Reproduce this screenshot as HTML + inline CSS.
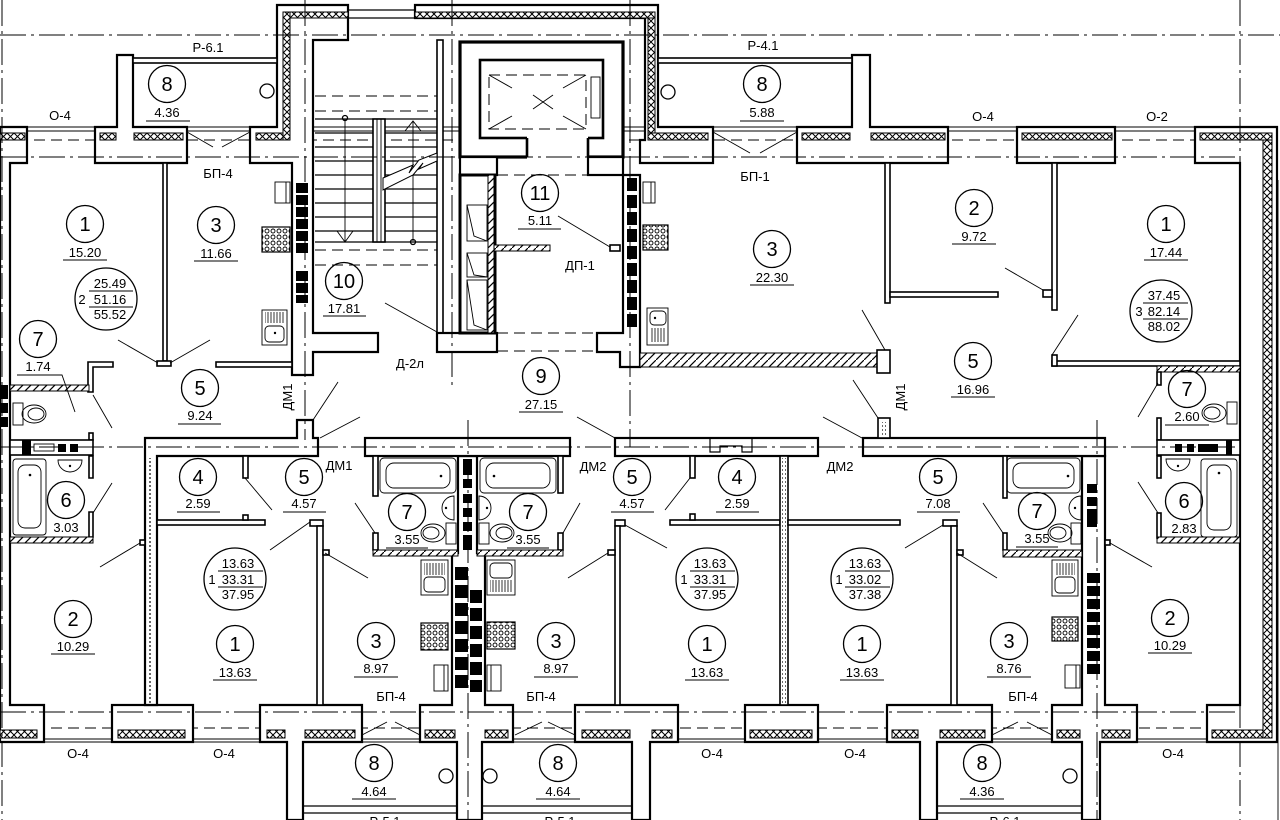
<!DOCTYPE html>
<html><head><meta charset="utf-8"><style>
html,body{margin:0;padding:0;background:#fff}
svg{display:block}
text{font-family:"Liberation Sans Narrow","Liberation Sans",sans-serif;fill:#000}
.w{fill:#fff;stroke:#000;stroke-width:2.2}
.p{fill:#fff;stroke:#000;stroke-width:1.6}
.l{stroke:#000;stroke-width:1.2;fill:none}
.t{stroke:#000;stroke-width:0.9;fill:none}
.dd{stroke:#000;stroke-width:1;stroke-dasharray:26 5 3 5;fill:none}
.da{stroke:#000;stroke-width:1;stroke-dasharray:11 6;fill:none}
.x{fill:url(#xp);stroke:#000;stroke-width:1}
.h{fill:url(#hp);stroke:#000;stroke-width:1}
.b{fill:#000}
.c{fill:none;stroke:#000;stroke-width:1.3}
.n{font-size:20px;text-anchor:middle}
.a{font-size:13px;text-anchor:middle}
</style></head><body>
<svg width="1280" height="820" viewBox="0 0 1280 820" xmlns="http://www.w3.org/2000/svg">
<defs>
<pattern id="xp" width="7" height="7" patternUnits="userSpaceOnUse"><rect width="7" height="7" fill="#fff"/><path d="M0,0L7,7M7,0L0,7" stroke="#000" stroke-width="1"/></pattern>
<pattern id="hp" width="8" height="8" patternUnits="userSpaceOnUse"><rect width="8" height="8" fill="#fff"/><path d="M0,8L8,0" stroke="#000" stroke-width="1.2"/></pattern>
<pattern id="st" width="6" height="6" patternUnits="userSpaceOnUse"><rect width="6" height="6" fill="#fff"/><circle cx="3" cy="3" r="2" fill="none" stroke="#000" stroke-width="0.9"/></pattern>
<pattern id="dr" width="3" height="10" patternUnits="userSpaceOnUse"><path d="M1,0V10" stroke="#000" stroke-width="0.8"/></pattern>
<pattern id="dt" width="4" height="4" patternUnits="userSpaceOnUse"><circle cx="2" cy="2" r="0.9" fill="#000"/></pattern>
</defs>
<rect width="1280" height="820" fill="#fff"/>

<path class="t" d="M0,127H1195M0,131H1195M0,739H1275M0,742H1275"/>
<path class="da" d="M0,140H1262M0,728H1262"/>

<path class="w" d="M0,127H27V163H10V705H44V742H0Z"/>
<path class="w" d="M95,127H117V55H133V127H187V163H95Z"/>
<path class="w" d="M250,127H277V5H348V40H313V333H378V352H313V375H292V163H250Z"/>
<path class="w" d="M415,5H658V127H713V163H640V140H645V18H415Z"/>
<path class="w" d="M797,127H852V55H870V127H948V163H797Z"/>
<rect class="w" x="1017" y="127" width="98" height="36"/>
<path class="w" d="M1195,127H1277V742H1207V705H1240V163H1195Z"/>
<path class="l" d="M348,10H415M348,18H415"/>
<rect class="p" x="133" y="58" width="144" height="5"/>
<rect class="p" x="658" y="58" width="194" height="5"/>
<circle class="c" cx="267" cy="91" r="7" stroke-width="2"/>
<circle class="c" cx="668" cy="92" r="7" stroke-width="2"/>
<rect class="x" x="0" y="133" width="25" height="7"/>
<rect class="x" x="100" y="133" width="16" height="7"/>
<rect class="x" x="134" y="133" width="49" height="7"/>
<rect class="x" x="256" y="133" width="27" height="7"/>
<rect class="x" x="283" y="12" width="7" height="128"/>
<rect class="x" x="290" y="12" width="58" height="6"/>
<rect class="x" x="415" y="12" width="240" height="6"/>
<rect class="x" x="648" y="18" width="7" height="115"/>
<rect class="x" x="648" y="133" width="60" height="7"/>
<rect class="x" x="802" y="133" width="48" height="7"/>
<rect class="x" x="871" y="133" width="74" height="7"/>
<rect class="x" x="1022" y="133" width="90" height="7"/>
<rect class="x" x="1200" y="133" width="72" height="7"/>
<rect class="x" x="1263" y="140" width="9" height="598"/>

<rect class="w" x="112" y="705" width="81" height="37"/>
<path class="w" d="M260,705H362V742H303V820H287V742H260Z"/>
<path class="w" d="M420,705H452V553H458V456H477V553H485V705H513V742H482V820H457V742H420Z"/>
<path class="w" d="M575,705H678V742H650V820H632V742H575Z"/>
<rect class="w" x="745" y="705" width="73" height="37"/>
<path class="w" d="M887,705H992V742H937V820H920V742H887Z"/>
<path class="w" d="M1052,705H1082V456H1105V705H1137V742H1100V820H1082V742H1052Z"/>
<rect class="x" x="0" y="730" width="37" height="8"/>
<rect class="x" x="118" y="730" width="67" height="8"/>
<rect class="x" x="267" y="730" width="18" height="8"/>
<rect class="x" x="305" y="730" width="50" height="8"/>
<rect class="x" x="425" y="730" width="30" height="8"/>
<rect class="x" x="485" y="730" width="23" height="8"/>
<rect class="x" x="582" y="730" width="48" height="8"/>
<rect class="x" x="652" y="730" width="20" height="8"/>
<rect class="x" x="750" y="730" width="62" height="8"/>
<rect class="x" x="892" y="730" width="26" height="8"/>
<rect class="x" x="940" y="730" width="45" height="8"/>
<rect class="x" x="1057" y="730" width="23" height="8"/>
<rect class="x" x="1102" y="730" width="28" height="8"/>
<rect class="x" x="1212" y="730" width="51" height="8"/>
<path class="l" d="M303,806H457M303,813H457M482,806H632M482,813H632M937,806H1082M937,813H1082" stroke-width="1.6"/>
<circle class="c" cx="446" cy="776" r="7" stroke-width="2"/>
<circle class="c" cx="490" cy="776" r="7" stroke-width="2"/>
<circle class="c" cx="1070" cy="776" r="7" stroke-width="2"/>

<rect class="p" x="437" y="40" width="6" height="293"/>
<path class="da" d="M315,96H437M315,111H437M315,250H437M315,265H437"/>
<path class="l" d="M315,119H437M315,133H373M385,133H437M315,147H373M385,147H437M315,161H373M385,161H437M315,175H373M385,175H437M315,189H373M385,189H437M315,203H373M385,203H437M315,217H373M385,217H437M315,231H373M385,231H437M315,242H437"/>
<rect class="p" x="373" y="119" width="12" height="123"/>
<path class="t" d="M377,119V242M381,119V242"/>
<path class="t" d="M345,119V241M337,231L345,242L353,231M413,241V121M405,131L413,121L421,131"/>
<circle cx="345" cy="118" r="2.5" class="c"/><circle cx="413" cy="242" r="2.5" class="c"/>
<path d="M383,178L413,165L409,173L419,160L437,153V161L419,169L423,163L413,175L383,190Z" fill="#fff" stroke="#000" stroke-width="1"/>
<rect class="w" x="437" y="333" width="60" height="19"/>
<rect x="460" y="42" width="163" height="115" fill="#fff" stroke="#000" stroke-width="3.2"/>
<rect x="480" y="60" width="123" height="78" fill="#fff" stroke="#000" stroke-width="2.6"/>
<rect x="527" y="136" width="61" height="23" fill="#fff"/>
<path d="M527,138V157M588,138V157" stroke="#000" stroke-width="2.6"/>
<rect class="da" x="489" y="75" width="97" height="54"/>
<path class="t" d="M489,75L512,88M586,75L563,88M489,129L512,116M586,129L563,116M533,95L553,109M553,95L533,109"/>
<rect class="t" x="591" y="77" width="9" height="41"/>
<rect class="w" x="460" y="157" width="37" height="18"/>
<rect class="w" x="588" y="157" width="35" height="18"/>
<rect x="460" y="175" width="35" height="158" fill="#fff" stroke="#000" stroke-width="3"/>
<rect class="h" x="488" y="175" width="6" height="158"/>
<rect class="t" x="467" y="205" width="20" height="36"/><path class="t" d="M467,205L474,236L487,241"/>
<rect class="t" x="467" y="253" width="20" height="24"/><path class="t" d="M467,253L474,275L487,277"/>
<rect class="t" x="467" y="280" width="20" height="50"/><path class="t" d="M467,280L474,325L487,330"/>
<rect class="h" x="494" y="245" width="56" height="6"/>
<path class="da" d="M497,175H588M497,333H597M497,351H597"/>
<path class="w" d="M623,175H640V367H620V352H597V333H623Z"/>
<g class="b">
<rect x="627" y="178" width="10" height="13"/><rect x="627" y="195" width="10" height="13"/><rect x="627" y="212" width="10" height="13"/><rect x="627" y="229" width="10" height="13"/><rect x="627" y="246" width="10" height="13"/><rect x="627" y="263" width="10" height="13"/><rect x="627" y="280" width="10" height="13"/><rect x="627" y="297" width="10" height="13"/><rect x="627" y="314" width="10" height="13"/>
</g>
<rect class="p" x="610" y="245" width="10" height="6"/>

<g class="b">
<rect x="296" y="183" width="12" height="10"/><rect x="296" y="195" width="12" height="10"/><rect x="296" y="207" width="12" height="10"/><rect x="296" y="219" width="12" height="10"/><rect x="296" y="231" width="12" height="10"/><rect x="296" y="243" width="12" height="10"/>
<rect x="296" y="271" width="12" height="10"/><rect x="296" y="283" width="12" height="10"/><rect x="296" y="295" width="12" height="8"/>
</g>

<rect class="p" x="163" y="163" width="4" height="198"/>
<rect class="p" x="157" y="361" width="14" height="5"/>
<rect class="p" x="216" y="362" width="76" height="5"/>
<path class="p" d="M88,362H113V367H93V392H88Z"/>
<rect class="p" x="89" y="433" width="4" height="7"/>
<rect class="h" x="10" y="385" width="79" height="6"/>
<rect class="t" x="13" y="403" width="10" height="22"/><ellipse class="t" cx="34" cy="414" rx="12" ry="9"/><ellipse class="t" cx="36" cy="414" rx="8" ry="6"/>
<rect x="0" y="385" width="8" height="14" class="b"/><rect x="0" y="403" width="8" height="10" class="b"/><rect x="0" y="417" width="8" height="10" class="b"/>
<rect class="t" x="275" y="182" width="15" height="21"/><path class="t" d="M286,182V203"/>
<rect x="262" y="227" width="28" height="25" fill="url(#st)" stroke="#000" stroke-width="1.2"/>
<rect class="t" x="262" y="310" width="25" height="35"/><rect x="265" y="312" width="19" height="11" fill="url(#dr)"/><rect class="t" x="265" y="326" width="19" height="16" rx="4"/><circle cx="275" cy="333" r="1.2" class="b"/>

<rect class="h" x="640" y="353" width="242" height="14"/>
<rect class="p" x="877" y="350" width="13" height="23"/>
<rect class="t" x="643" y="182" width="12" height="21"/><path class="t" d="M651,182V203"/>
<rect x="643" y="225" width="25" height="25" fill="url(#st)" stroke="#000" stroke-width="1.2"/>
<rect class="t" x="647" y="308" width="21" height="37"/><rect class="t" x="650" y="311" width="16" height="14" rx="4"/><circle cx="655" cy="318" r="1.2" class="b"/><rect x="650" y="328" width="16" height="14" fill="url(#dr)"/>
<rect class="p" x="885" y="163" width="5" height="140"/>
<rect class="p" x="890" y="292" width="108" height="5"/>
<rect class="p" x="1052" y="163" width="5" height="147"/>
<rect class="p" x="1043" y="290" width="9" height="7"/>
<rect class="p" x="1052" y="361" width="188" height="5"/>
<rect class="p" x="1052" y="355" width="5" height="11"/>
<rect class="h" x="1157" y="366" width="83" height="6"/>
<rect class="p" x="1157" y="372" width="4" height="13"/>
<rect class="p" x="1157" y="418" width="4" height="22"/>
<rect class="t" x="1227" y="402" width="10" height="22"/><ellipse class="t" cx="1214" cy="413" rx="12" ry="9"/><ellipse class="t" cx="1212" cy="413" rx="8" ry="6"/>

<path class="w" d="M145,438H297V420H313V438H318V456H157V705H145Z"/>
<rect x="149" y="458" width="4" height="246" fill="url(#dt)"/>
<rect class="w" x="365" y="438" width="205" height="18"/>
<rect class="w" x="615" y="438" width="203" height="18"/>
<path class="l" d="M710,438V452H720V446H742V452H752V438" stroke-width="2"/>
<rect class="w" x="863" y="438" width="242" height="18"/>
<rect class="p" x="878" y="418" width="12" height="20"/>
<rect x="882" y="422" width="4" height="14" fill="url(#dt)"/>
<rect class="p" x="10" y="440" width="83" height="15"/>
<rect x="22" y="440" width="9" height="15" class="b"/><rect class="t" x="34" y="444" width="20" height="7"/><rect x="58" y="444" width="8" height="8" class="b"/><rect x="70" y="444" width="8" height="8" class="b"/>
<rect class="p" x="1157" y="440" width="83" height="15"/>
<rect x="1226" y="440" width="6" height="15" class="b"/><rect class="b" x="1198" y="444" width="20" height="8"/><rect x="1187" y="444" width="7" height="8" class="b"/><rect x="1175" y="444" width="7" height="8" class="b"/>

<path class="p" d="M89,456H93V478H89ZM89,512H93V537H89Z"/>
<rect class="h" x="10" y="537" width="83" height="6"/>
<rect class="t" x="13" y="459" width="33" height="76" rx="3"/><rect class="t" x="18" y="465" width="23" height="63" rx="7"/><circle cx="30" cy="475" r="1.3" class="b"/>
<path class="t" d="M58,460H82A12,12 0 0 1 58,460Z"/><circle cx="70" cy="466" r="1.2" class="b"/>
<rect class="p" x="140" y="540" width="5" height="5"/>
<rect class="p" x="243" y="456" width="5" height="22"/>
<rect class="p" x="157" y="520" width="108" height="5"/>
<rect class="p" x="243" y="515" width="5" height="5"/>
<rect class="p" x="310" y="520" width="13" height="6"/>
<rect class="p" x="317" y="526" width="6" height="179"/>
<rect class="p" x="323" y="550" width="6" height="5"/>
<rect class="p" x="373" y="456" width="5" height="40"/>
<rect class="p" x="373" y="533" width="5" height="17"/>
<rect class="h" x="373" y="550" width="85" height="6"/>
<rect class="t" x="380" y="458" width="76" height="35" rx="4"/><rect class="t" x="386" y="463" width="64" height="25" rx="8"/><circle cx="441" cy="476" r="1.3" class="b"/>
<path class="t" d="M454,496V520A12,12 0 0 1 454,496Z"/><circle cx="446" cy="508" r="1.2" class="b"/>
<rect class="t" x="446" y="523" width="10" height="21"/><ellipse class="t" cx="433" cy="533" rx="12" ry="9"/><ellipse class="t" cx="431" cy="533" rx="8" ry="6"/>
<rect class="p" x="558" y="456" width="5" height="37"/>
<rect class="p" x="558" y="533" width="5" height="17"/>
<rect class="h" x="477" y="550" width="86" height="6"/>
<rect class="t" x="480" y="458" width="76" height="35" rx="4"/><rect class="t" x="486" y="463" width="64" height="25" rx="8"/><circle cx="494" cy="476" r="1.3" class="b"/>
<path class="t" d="M479,496V520A12,12 0 0 0 479,496Z"/><circle cx="487" cy="508" r="1.2" class="b"/>
<rect class="t" x="479" y="523" width="10" height="21"/><ellipse class="t" cx="502" cy="533" rx="12" ry="9"/><ellipse class="t" cx="504" cy="533" rx="8" ry="6"/>
<g class="b">
<rect x="463" y="459" width="9" height="16"/><rect x="463" y="479" width="9" height="9"/><rect x="463" y="494" width="9" height="9"/><rect x="463" y="508" width="9" height="9"/><rect x="463" y="522" width="9" height="9"/><rect x="463" y="535" width="9" height="15"/>
<rect x="455" y="567" width="13" height="13"/><rect x="455" y="585" width="13" height="13"/><rect x="455" y="603" width="13" height="13"/><rect x="455" y="621" width="13" height="13"/><rect x="455" y="639" width="13" height="13"/><rect x="455" y="657" width="13" height="13"/><rect x="455" y="675" width="13" height="13"/>
<rect x="470" y="590" width="12" height="13"/><rect x="470" y="608" width="12" height="13"/><rect x="470" y="626" width="12" height="13"/><rect x="470" y="644" width="12" height="13"/><rect x="470" y="662" width="12" height="13"/><rect x="470" y="680" width="12" height="12"/>
</g>
<rect class="t" x="421" y="560" width="27" height="35"/><rect x="424" y="563" width="21" height="12" fill="url(#dr)"/><rect class="t" x="424" y="577" width="21" height="15" rx="4"/>
<rect x="421" y="623" width="27" height="27" fill="url(#st)" stroke="#000" stroke-width="1.2"/>
<rect class="t" x="434" y="665" width="14" height="26"/><path class="t" d="M444,665V691"/>
<rect class="t" x="487" y="560" width="28" height="35"/><rect class="t" x="490" y="563" width="22" height="15" rx="4"/><rect x="490" y="580" width="22" height="12" fill="url(#dr)"/>
<rect x="487" y="622" width="28" height="27" fill="url(#st)" stroke="#000" stroke-width="1.2"/>
<rect class="t" x="487" y="665" width="14" height="26"/><path class="t" d="M491,665V691"/>
<rect class="p" x="615" y="520" width="10" height="6"/>
<rect class="p" x="615" y="526" width="5" height="179"/>
<rect class="p" x="608" y="550" width="7" height="5"/>
<rect class="p" x="690" y="456" width="5" height="22"/>
<rect class="p" x="670" y="520" width="110" height="5"/>
<rect class="p" x="690" y="514" width="5" height="6"/>
<rect class="p" x="780" y="456" width="8" height="249"/>
<rect x="782" y="458" width="4" height="246" fill="url(#dt)"/>
<rect class="p" x="788" y="520" width="112" height="5"/>
<rect class="p" x="943" y="520" width="14" height="6"/>
<rect class="p" x="951" y="526" width="6" height="179"/>
<rect class="p" x="957" y="550" width="6" height="5"/>
<rect class="p" x="1003" y="456" width="4" height="42"/>
<rect class="p" x="1003" y="533" width="4" height="17"/>
<rect class="h" x="1003" y="550" width="79" height="7"/>
<rect class="t" x="1007" y="458" width="73" height="35" rx="4"/><rect class="t" x="1013" y="463" width="61" height="25" rx="8"/><circle cx="1068" cy="476" r="1.3" class="b"/>
<path class="t" d="M1081,496V520A12,12 0 0 1 1081,496Z"/><circle cx="1075" cy="508" r="1.2" class="b"/>
<rect class="t" x="1071" y="523" width="10" height="21"/><ellipse class="t" cx="1060" cy="533" rx="12" ry="9"/><ellipse class="t" cx="1058" cy="533" rx="8" ry="6"/>
<rect class="t" x="1052" y="560" width="26" height="36"/><rect x="1055" y="563" width="20" height="12" fill="url(#dr)"/><rect class="t" x="1055" y="577" width="20" height="16" rx="4"/>
<rect x="1052" y="617" width="26" height="24" fill="url(#st)" stroke="#000" stroke-width="1.2"/>
<rect class="t" x="1065" y="665" width="15" height="23"/><path class="t" d="M1076,665V688"/>
<g class="b">
<rect x="1087" y="484" width="10" height="9"/><rect x="1087" y="497" width="10" height="9"/><rect x="1087" y="509" width="10" height="18"/>
<rect x="1087" y="573" width="13" height="10"/><rect x="1087" y="586" width="13" height="10"/><rect x="1087" y="599" width="13" height="10"/><rect x="1087" y="612" width="13" height="10"/><rect x="1087" y="625" width="13" height="10"/><rect x="1087" y="638" width="13" height="10"/><rect x="1087" y="651" width="13" height="10"/><rect x="1087" y="664" width="13" height="10"/>
</g>
<rect class="p" x="1105" y="540" width="5" height="5"/>
<rect class="p" x="1157" y="456" width="4" height="22"/>
<rect class="p" x="1157" y="513" width="4" height="25"/>
<rect class="h" x="1157" y="537" width="83" height="6"/>
<rect class="t" x="1201" y="459" width="36" height="78" rx="3"/><rect class="t" x="1207" y="465" width="24" height="65" rx="7"/><circle cx="1219" cy="473" r="1.3" class="b"/>
<path class="t" d="M1166,459H1190A12,12 0 0 1 1166,459Z"/><circle cx="1178" cy="466" r="1.2" class="b"/>

<path class="t" stroke-width="1.1" d="M187,132L213,147M250,132L222,147M713,132L750,153M797,132L760,153
M118,340L158,363M210,340L170,363M93,395L112,428M385,303L437,332M558,216L610,247
M320,438L360,417M313,420L338,382M615,438L577,417M862,438L823,417M878,418L853,380M885,350L862,310
M1005,268L1043,290M1052,355L1078,315M1158,383L1138,417
M93,513L112,483M140,543L100,567M245,478L272,510M310,522L270,550M325,553L368,578M375,533L355,503
M563,533L580,503M608,553L568,578M625,525L667,548M690,478L665,510
M943,525L905,548M957,553L997,578M1003,533L983,503M1110,543L1152,567M1158,513L1138,482
M362,735L387,722M420,735L395,722M515,735L542,722M575,735L548,722M992,735L1018,722M1052,735L1027,722"/>

<path class="dd" d="M0,35H1280M0,157H1240M0,447H1240M0,712H1240M2,0V820M305,0V440M452,0V390M630,0V447M1240,0V820M1097,420V820M468,420V820"/>
<path class="t" d="M1278,180V820"/>

<g>
<text class="a" x="208" y="52">Р-6.1</text>
<text class="a" x="763" y="50">Р-4.1</text>
<text class="a" x="60" y="120">О-4</text>
<text class="a" x="983" y="121">О-4</text>
<text class="a" x="1157" y="121">О-2</text>
<text class="a" x="218" y="178">БП-4</text>
<text class="a" x="755" y="181">БП-1</text>
<text class="a" x="580" y="270">ДП-1</text>
<text class="a" x="410" y="368">Д-2л</text>
<text class="a" transform="translate(292,397) rotate(-90)">ДМ1</text>
<text class="a" transform="translate(905,397) rotate(-90)">ДМ1</text>
<text class="a" x="339" y="470">ДМ1</text>
<text class="a" x="593" y="471">ДМ2</text>
<text class="a" x="840" y="471">ДМ2</text>
<text class="a" x="391" y="701">БП-4</text>
<text class="a" x="541" y="701">БП-4</text>
<text class="a" x="1023" y="701">БП-4</text>
<text class="a" x="78" y="758">О-4</text>
<text class="a" x="224" y="758">О-4</text>
<text class="a" x="712" y="758">О-4</text>
<text class="a" x="855" y="758">О-4</text>
<text class="a" x="1173" y="758">О-4</text>
<text class="a" x="385" y="826">Р-5.1</text>
<text class="a" x="560" y="826">Р-5.1</text>
<text class="a" x="1005" y="826">Р-6.1</text>
</g>

<g>
<circle class="c" cx="167" cy="84" r="18.5"/><text class="n" x="167" y="91">8</text><text class="a" x="167" y="117">4.36</text><path class="t" d="M146,121H190"/>
<circle class="c" cx="762" cy="84" r="18.5"/><text class="n" x="762" y="91">8</text><text class="a" x="762" y="117">5.88</text><path class="t" d="M740,121H784"/>
<circle class="c" cx="85" cy="224" r="18.5"/><text class="n" x="85" y="231">1</text><text class="a" x="85" y="257">15.20</text><path class="t" d="M63,260H107"/>
<circle class="c" cx="216" cy="225" r="18.5"/><text class="n" x="216" y="232">3</text><text class="a" x="216" y="258">11.66</text><path class="t" d="M194,261H238"/>
<circle class="c" cx="38" cy="339" r="18.5"/><text class="n" x="38" y="346">7</text><text class="a" x="38" y="371">1.74</text><path class="t" d="M17,375H62L75,412"/>
<circle class="c" cx="200" cy="388" r="18.5"/><text class="n" x="200" y="395">5</text><text class="a" x="200" y="420">9.24</text><path class="t" d="M178,424H221"/>
<circle class="c" cx="344" cy="281" r="18.5"/><text class="n" x="344" y="288">10</text><text class="a" x="344" y="313">17.81</text><path class="t" d="M323,316H366"/>
<circle class="c" cx="540" cy="193" r="18.5"/><text class="n" x="540" y="200">11</text><text class="a" x="540" y="225">5.11</text><path class="t" d="M518,229H561"/>
<circle class="c" cx="541" cy="376" r="18.5"/><text class="n" x="541" y="383">9</text><text class="a" x="541" y="409">27.15</text><path class="t" d="M519,412H563"/>
<circle class="c" cx="772" cy="249" r="18.5"/><text class="n" x="772" y="256">3</text><text class="a" x="772" y="282">22.30</text><path class="t" d="M750,285H794"/>
<circle class="c" cx="974" cy="208" r="18.5"/><text class="n" x="974" y="215">2</text><text class="a" x="974" y="241">9.72</text><path class="t" d="M952,244H996"/>
<circle class="c" cx="1166" cy="224" r="18.5"/><text class="n" x="1166" y="231">1</text><text class="a" x="1166" y="257">17.44</text><path class="t" d="M1144,260H1188"/>
<circle class="c" cx="973" cy="361" r="18.5"/><text class="n" x="973" y="368">5</text><text class="a" x="973" y="394">16.96</text><path class="t" d="M951,397H995"/>
<circle class="c" cx="1187" cy="389" r="18.5"/><text class="n" x="1187" y="396">7</text><text class="a" x="1187" y="421">2.60</text><path class="t" d="M1165,425H1209"/>

<circle class="c" cx="198" cy="477" r="18.5"/><text class="n" x="198" y="484">4</text><text class="a" x="198" y="508">2.59</text><path class="t" d="M177,512H220"/>
<circle class="c" cx="304" cy="477" r="18.5"/><text class="n" x="304" y="484">5</text><text class="a" x="304" y="508">4.57</text><path class="t" d="M283,512H326"/>
<circle class="c" cx="66" cy="500" r="18.5"/><text class="n" x="66" y="507">6</text><text class="a" x="66" y="532">3.03</text>
<circle class="c" cx="407" cy="512" r="18.5"/><text class="n" x="407" y="519">7</text><text class="a" x="407" y="544">3.55</text><path class="t" d="M386,548H428"/>
<circle class="c" cx="528" cy="512" r="18.5"/><text class="n" x="528" y="519">7</text><text class="a" x="528" y="544">3.55</text><path class="t" d="M507,548H549"/>
<circle class="c" cx="632" cy="477" r="18.5"/><text class="n" x="632" y="484">5</text><text class="a" x="632" y="508">4.57</text><path class="t" d="M611,512H654"/>
<circle class="c" cx="737" cy="477" r="18.5"/><text class="n" x="737" y="484">4</text><text class="a" x="737" y="508">2.59</text><path class="t" d="M716,512H759"/>
<circle class="c" cx="938" cy="477" r="18.5"/><text class="n" x="938" y="484">5</text><text class="a" x="938" y="508">7.08</text><path class="t" d="M917,512H960"/>
<circle class="c" cx="1037" cy="511" r="18.5"/><text class="n" x="1037" y="518">7</text><text class="a" x="1037" y="543">3.55</text><path class="t" d="M1016,547H1058"/>
<circle class="c" cx="1184" cy="501" r="18.5"/><text class="n" x="1184" y="508">6</text><text class="a" x="1184" y="533">2.83</text>
<circle class="c" cx="73" cy="619" r="18.5"/><text class="n" x="73" y="626">2</text><text class="a" x="73" y="651">10.29</text><path class="t" d="M51,654H95"/>
<circle class="c" cx="1170" cy="618" r="18.5"/><text class="n" x="1170" y="625">2</text><text class="a" x="1170" y="650">10.29</text><path class="t" d="M1148,653H1192"/>
<circle class="c" cx="235" cy="644" r="18.5"/><text class="n" x="235" y="651">1</text><text class="a" x="235" y="677">13.63</text><path class="t" d="M213,680H257"/>
<circle class="c" cx="707" cy="644" r="18.5"/><text class="n" x="707" y="651">1</text><text class="a" x="707" y="677">13.63</text><path class="t" d="M685,680H729"/>
<circle class="c" cx="862" cy="644" r="18.5"/><text class="n" x="862" y="651">1</text><text class="a" x="862" y="677">13.63</text><path class="t" d="M840,680H884"/>
<circle class="c" cx="376" cy="641" r="18.5"/><text class="n" x="376" y="648">3</text><text class="a" x="376" y="673">8.97</text><path class="t" d="M354,677H398"/>
<circle class="c" cx="556" cy="641" r="18.5"/><text class="n" x="556" y="648">3</text><text class="a" x="556" y="673">8.97</text><path class="t" d="M534,677H578"/>
<circle class="c" cx="1009" cy="641" r="18.5"/><text class="n" x="1009" y="648">3</text><text class="a" x="1009" y="673">8.76</text><path class="t" d="M987,677H1031"/>
<circle class="c" cx="374" cy="763" r="18.5"/><text class="n" x="374" y="770">8</text><text class="a" x="374" y="796">4.64</text><path class="t" d="M352,799H396"/>
<circle class="c" cx="558" cy="763" r="18.5"/><text class="n" x="558" y="770">8</text><text class="a" x="558" y="796">4.64</text><path class="t" d="M536,799H580"/>
<circle class="c" cx="982" cy="763" r="18.5"/><text class="n" x="982" y="770">8</text><text class="a" x="982" y="796">4.36</text><path class="t" d="M960,799H1004"/>
</g>

<g>
<circle class="c" cx="106" cy="299" r="31"/>
<text class="a" x="110" y="288" font-size="12">25.49</text><text class="a" x="110" y="304" font-size="12">51.16</text><text class="a" x="110" y="319" font-size="12">55.52</text><text class="a" x="82" y="304" font-size="12">2</text><path class="t" d="M89,291H133M89,307H133"/>

<circle class="c" cx="1161" cy="311" r="31"/>
<text class="a" x="1164" y="300" font-size="12">37.45</text><text class="a" x="1164" y="316" font-size="12">82.14</text><text class="a" x="1164" y="331" font-size="12">88.02</text><text class="a" x="1139" y="316" font-size="12">3</text><path class="t" d="M1143,303H1188M1143,319H1188"/>

<circle class="c" cx="235" cy="579" r="31"/>
<text class="a" x="238" y="568" font-size="12">13.63</text><text class="a" x="238" y="584" font-size="12">33.31</text><text class="a" x="238" y="599" font-size="12">37.95</text><text class="a" x="212" y="584" font-size="12">1</text><path class="t" d="M218,571H263M218,587H263"/>

<circle class="c" cx="707" cy="579" r="31"/>
<text class="a" x="710" y="568" font-size="12">13.63</text><text class="a" x="710" y="584" font-size="12">33.31</text><text class="a" x="710" y="599" font-size="12">37.95</text><text class="a" x="684" y="584" font-size="12">1</text><path class="t" d="M690,571H735M690,587H735"/>

<circle class="c" cx="862" cy="579" r="31"/>
<text class="a" x="865" y="568" font-size="12">13.63</text><text class="a" x="865" y="584" font-size="12">33.02</text><text class="a" x="865" y="599" font-size="12">37.38</text><text class="a" x="839" y="584" font-size="12">1</text><path class="t" d="M845,571H890M845,587H890"/>
</g>
</svg>
</body></html>
